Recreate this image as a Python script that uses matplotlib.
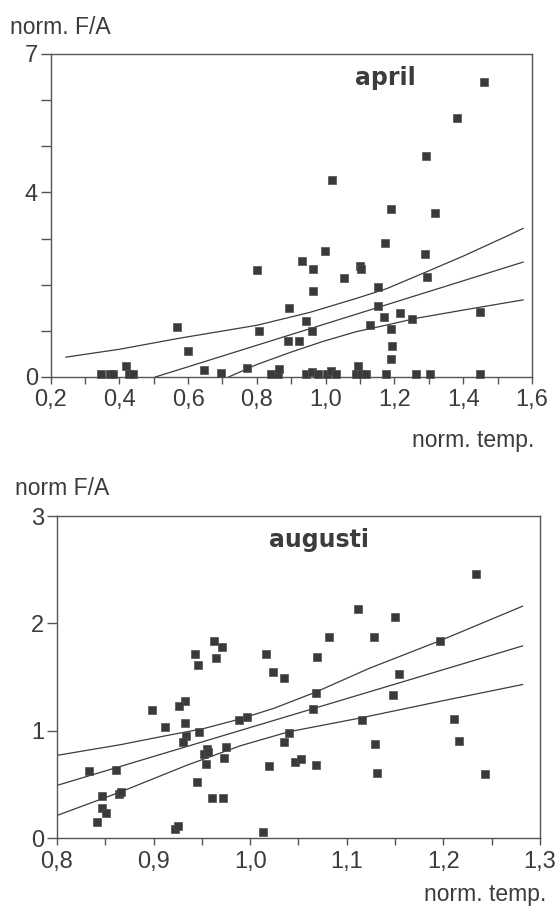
import matplotlib
matplotlib.use("Agg")
import matplotlib.pyplot as plt
import numpy as np

plt.rcParams['font.family'] = ['Liberation Sans', 'DejaVu Sans']

INK = '#3c3c3c'

# april: normaliserad temperatur mot normaliserad F/A
apr_temp = [0.347, 0.374, 0.381, 0.418, 0.427, 0.439, 0.567, 0.600, 0.645, 0.697,
            0.771, 0.799, 0.807, 0.840, 0.861, 0.864, 0.893, 0.890, 0.921, 0.932,
            0.944, 0.944, 0.961, 0.962, 0.961, 0.963, 0.978, 0.997, 1.005, 1.016,
            1.017, 1.031, 1.052, 1.088, 1.095, 1.101, 1.103, 1.103, 1.117, 1.129,
            1.151, 1.153, 1.170, 1.172, 1.175, 1.189, 1.190, 1.194, 1.190, 1.216,
            1.252, 1.262, 1.291, 1.289, 1.296, 1.302, 1.319, 1.381, 1.448, 1.450,
            1.459]
apr_fa = [0.06, 0.06, 0.06, 0.23, 0.06, 0.06, 1.08, 0.56, 0.15, 0.08,
          0.20, 2.32, 0.99, 0.07, 0.07, 0.18, 1.50, 0.77, 0.77, 2.51,
          1.22, 0.07, 0.10, 1.87, 0.99, 2.34, 0.07, 2.74, 0.07, 0.12,
          4.27, 0.07, 2.14, 0.07, 0.23, 2.41, 2.34, 0.07, 0.07, 1.13,
          1.96, 1.53, 1.31, 2.91, 0.07, 3.64, 1.05, 0.68, 0.39, 1.39,
          1.26, 0.07, 4.78, 2.66, 2.16, 0.07, 3.56, 5.62, 0.07, 1.40,
          6.40]

# regressionslinje och konfidensband, april
apr_fit_x = [0.505, 1.574]
apr_fit_y = [0.0, 2.49]
apr_upp_x = [0.245, 0.40, 0.575, 0.80, 0.954, 1.088, 1.176, 1.262, 1.40, 1.526, 1.574]
apr_upp_y = [0.43, 0.60, 0.84, 1.12, 1.40, 1.70, 1.91, 2.18, 2.62, 3.05, 3.22]
apr_low_x = [0.718, 0.80, 0.896, 0.992, 1.088, 1.18, 1.262, 1.40, 1.526, 1.574]
apr_low_y = [0.0, 0.27, 0.53, 0.77, 0.98, 1.13, 1.27, 1.45, 1.61, 1.67]

# augusti
aug_temp = [0.963, 0.971, 0.943, 0.965, 0.946, 1.016, 1.024, 0.933, 0.926, 0.898,
            0.912, 0.933, 0.947, 0.934, 0.930, 0.988, 0.997, 0.955, 0.975, 0.952,
            0.956, 0.954, 0.973, 0.833, 0.861, 0.847, 0.864, 0.866, 0.847, 0.851,
            0.841, 0.945, 0.960, 0.972, 0.922, 0.925, 1.013, 1.019, 1.234, 1.112,
            1.150, 1.082, 1.128, 1.197, 1.069, 1.035, 1.154, 1.068, 1.148, 1.065,
            1.116, 1.211, 1.040, 1.035, 1.216, 1.129, 1.046, 1.053, 1.068, 1.131,
            1.243]
aug_fa = [1.84, 1.78, 1.71, 1.68, 1.61, 1.71, 1.55, 1.28, 1.23, 1.19,
          1.03, 1.07, 0.99, 0.95, 0.89, 1.10, 1.13, 0.83, 0.85, 0.78,
          0.80, 0.69, 0.75, 0.62, 0.63, 0.39, 0.41, 0.43, 0.28, 0.23,
          0.15, 0.52, 0.37, 0.37, 0.08, 0.11, 0.06, 0.67, 2.46, 2.13,
          2.06, 1.87, 1.87, 1.84, 1.69, 1.49, 1.53, 1.35, 1.33, 1.20,
          1.10, 1.11, 0.98, 0.89, 0.90, 0.88, 0.71, 0.74, 0.68, 0.61,
          0.60]

aug_fit_x = [0.80, 1.282]
aug_fit_y = [0.49, 1.79]
aug_upp_x = [0.80, 0.866, 0.911, 0.952, 0.99, 1.025, 1.068, 1.123, 1.197, 1.282]
aug_upp_y = [0.77, 0.87, 0.95, 1.02, 1.11, 1.21, 1.36, 1.58, 1.84, 2.16]
aug_low_x = [0.80, 0.866, 0.935, 0.99, 1.04, 1.115, 1.20, 1.282]
aug_low_y = [0.21, 0.43, 0.68, 0.86, 0.99, 1.12, 1.28, 1.43]

apr_xticks = [0.2, 0.4, 0.6, 0.8, 1.0, 1.2, 1.4, 1.6]
apr_xlabels = ['0,2', '0,4', '0,6', '0,8', '1,0', '1,2', '1,4', '1,6']
apr_yticks = [0, 1, 2, 3, 4, 5, 6, 7]
apr_ylabels = ['0', '', '', '', '4', '', '', '7']

aug_xticks = [0.8, 0.9, 1.0, 1.1, 1.2, 1.3]
aug_xlabels = ['0,8', '0,9', '1,0', '1,1', '1,2', '1,3']
aug_yticks = [0, 1, 2, 3]
aug_ylabels = ['0', '1', '2', '3']


def style_axes(ax, xticks, xlabels, xminor, yticks, ylabels):
    for s in ax.spines.values():
        s.set_color('#555555')
        s.set_linewidth(1.0)
    ax.set_xticks(xticks)
    ax.set_xticklabels(xlabels)
    ax.set_xticks(xminor, minor=True)
    ax.set_yticks(yticks)
    ax.set_yticklabels(ylabels)
    ax.tick_params(axis='x', which='both', direction='out', length=5,
                   width=1.0, color='#555555', labelsize=17, labelcolor=INK, pad=4)
    ax.tick_params(axis='y', direction='out', length=7, width=1.0,
                   color='#555555', labelsize=17, labelcolor=INK, pad=2)


def draw_panel(ax, tx, fa, fit, upp, low):
    ax.plot(fit[0], fit[1], color=INK, lw=0.9)
    ax.plot(upp[0], upp[1], color=INK, lw=0.9)
    ax.plot(low[0], low[1], color=INK, lw=0.9)
    ax.plot(tx, fa, 's', ms=5.6, color='#3a3a3a', mec='#505050', mew=0.5,
            clip_on=False, zorder=3)


fig = plt.figure(figsize=(5.57, 9.09), dpi=100)

ax1 = fig.add_axes([0.0907, 0.5853, 0.8645, 0.3553])
draw_panel(ax1, apr_temp, apr_fa, (apr_fit_x, apr_fit_y),
           (apr_upp_x, apr_upp_y), (apr_low_x, apr_low_y))
ax1.set_xlim(0.2, 1.6)
ax1.set_ylim(0, 7)
style_axes(ax1, apr_xticks, apr_xlabels, np.arange(0.2, 1.61, 0.1),
           apr_yticks, apr_ylabels)
ax1.text(0.696, 0.925, 'april', transform=ax1.transAxes, ha='center',
         va='center', fontsize=17, fontweight='bold', color=INK,
         family='DejaVu Sans')

ax2 = fig.add_axes([0.1023, 0.0781, 0.8671, 0.3542])
draw_panel(ax2, aug_temp, aug_fa, (aug_fit_x, aug_fit_y),
           (aug_upp_x, aug_upp_y), (aug_low_x, aug_low_y))
ax2.set_xlim(0.8, 1.3)
ax2.set_ylim(0, 3)
style_axes(ax2, aug_xticks, aug_xlabels, np.arange(0.8, 1.301, 0.05),
           aug_yticks, aug_ylabels)
ax2.text(0.542, 0.925, 'augusti', transform=ax2.transAxes, ha='center',
         va='center', fontsize=17, fontweight='bold', color=INK,
         family='DejaVu Sans')

# axeltitlar
fig.text(10 / 557, 1 - 27 / 909, 'norm. F/A', ha='left', va='center',
         fontsize=16.5, color=INK)
fig.text(534 / 557, 1 - 441 / 909, 'norm. temp.', ha='right', va='center',
         fontsize=16.5, color=INK)
fig.text(15 / 557, 1 - 489 / 909, 'norm F/A', ha='left', va='center',
         fontsize=16.5, color=INK)
fig.text(546 / 557, 1 - 895 / 909, 'norm. temp.', ha='right', va='center',
         fontsize=16.5, color=INK)

fig.savefig('out.png', dpi=100, facecolor='white')
